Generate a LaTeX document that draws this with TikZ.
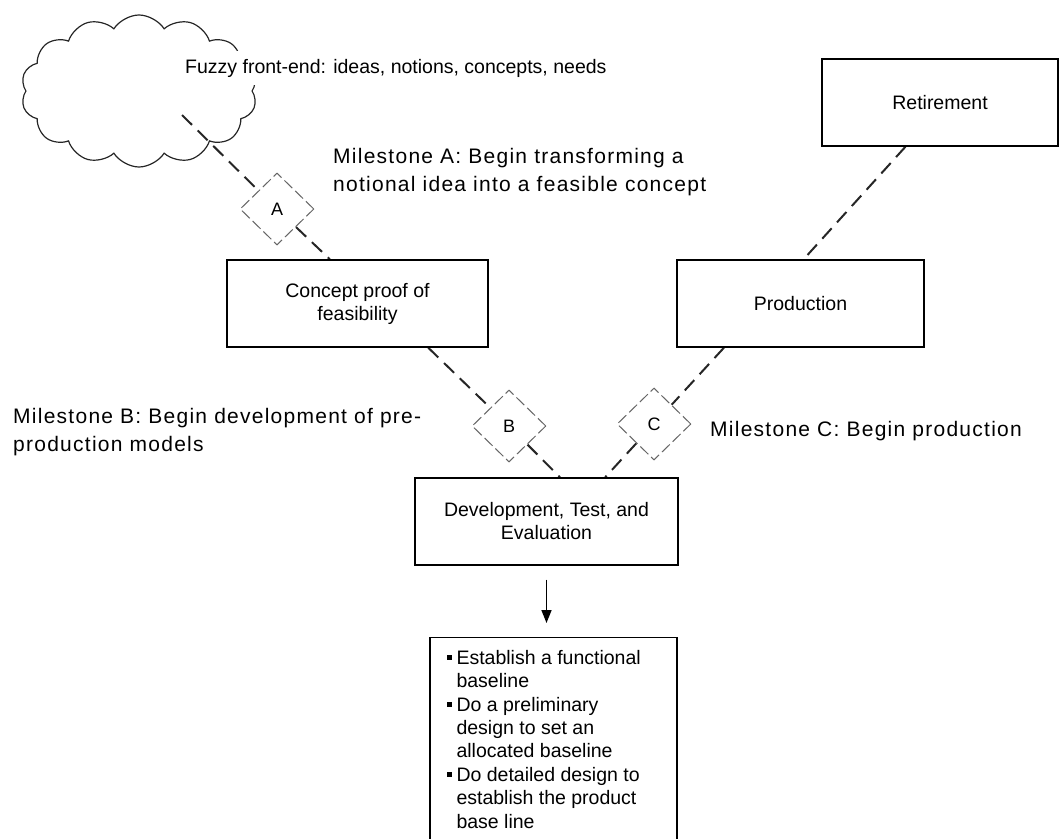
\documentclass[tikz,border=0pt]{standalone}
\usepackage{fontspec}
\setmainfont{Liberation Sans}
\newfontfamily\msfont[LetterSpace=6]{Liberation Sans}
\usetikzlibrary{shapes.geometric,shapes.symbols,arrows.meta,backgrounds}
\newcommand\blt{\makebox[10pt][l]{\rule[4.5pt]{5pt}{5pt}}}
\newcommand\ind{\hspace*{10pt}}
\begin{document}
\begin{tikzpicture}[x=1pt,y=-1pt,
  stagebox/.style={draw=black,line width=1.4pt,rectangle,inner sep=0pt,
    minimum height=87pt,align=center,font=\fontsize{19.5}{23}\selectfont},
  conn/.style={draw=black!85,line width=2pt,dash pattern=on 14pt off 8pt},
  milestone/.style={diamond,draw=black!60,fill=white,line width=1pt,
    dash pattern=on 11pt off 4pt,minimum width=74pt,minimum height=72pt,
    inner sep=0pt,font=\fontsize{18}{20}\selectfont},
  mstext/.style={inner sep=0pt,align=left,font=\msfont\fontsize{21}{28}\selectfont},
]
\useasboundingbox (0,0) rectangle (1059,838);

% cloud
\node[cloud,draw=black!85,line width=1.2pt,cloud puffs=14,cloud puff arc=115,aspect=1.55,
  minimum width=236pt,minimum height=152pt] (cloud) at (139,91) {};
\node[fill=white,inner xsep=3pt,inner ysep=8pt,anchor=base west,
  font=\fontsize{19.5}{23}\selectfont] (fuzzy) at (182,73)
  {Fuzzy front-end: ideas, notions, concepts, needs};
\coordinate (ctail) at (182,115);

% boxes
\node[stagebox,minimum width=261pt] (concept) at (357.5,303.5) {Concept proof of\\feasibility};
\node[stagebox,minimum width=247pt] (production) at (800.5,303.5) {Production};
\node[stagebox,minimum width=236pt] (retire) at (940,102.5) {Retirement};
\node[stagebox,minimum width=263pt] (dev) at (546.5,521.5) {Development, Test, and\\Evaluation};
\node[draw=black,line width=1.4pt,rectangle,minimum width=247pt,minimum height=240pt,
  anchor=north] (list) at (553.5,637) {};
\node[anchor=north west,inner sep=0pt,align=left,xshift=17pt,yshift=-13pt,
  font=\fontsize{19.5}{23.4}\selectfont] (listtext) at (list.north west)
  {\blt Establish a functional\\
   \ind baseline\\
   \blt Do a preliminary\\
   \ind design to set an\\
   \ind allocated baseline\\
   \blt Do detailed design to\\
   \ind establish the product\\
   \ind base line};

% milestones
\node[milestone] (A) at (277,209) {A};
\node[milestone] (B) at (509,426) {B};
\node[milestone] (C) at (654,424) {C};

\node[mstext,anchor=north west] (msA) at (333,148)
  {Milestone A: Begin transforming a\\notional idea into a feasible concept};
\node[mstext,anchor=north west] (msB) at (13,408)
  {Milestone B: Begin development of pre-\\production models};
\node[mstext,anchor=base west] (msC) at (710,436) {Milestone C: Begin production};

% connectors
\begin{scope}[on background layer]
\draw[conn] (ctail) -- (A) -- (concept.122.3);
\draw[conn] (concept.-32) -- (B) -- (dev.73);
\draw[conn] (production.-150.7) -- (C) -- (dev.37.6);
\draw[conn] (retire.-128.8) -- (production.86.8);
\end{scope}
\draw[line width=1.6pt,-{Triangle[length=13pt,width=10pt]},shorten <=14pt,shorten >=14pt]
  (dev.south) -- (dev.south |- list.north);
\end{tikzpicture}
\end{document}
